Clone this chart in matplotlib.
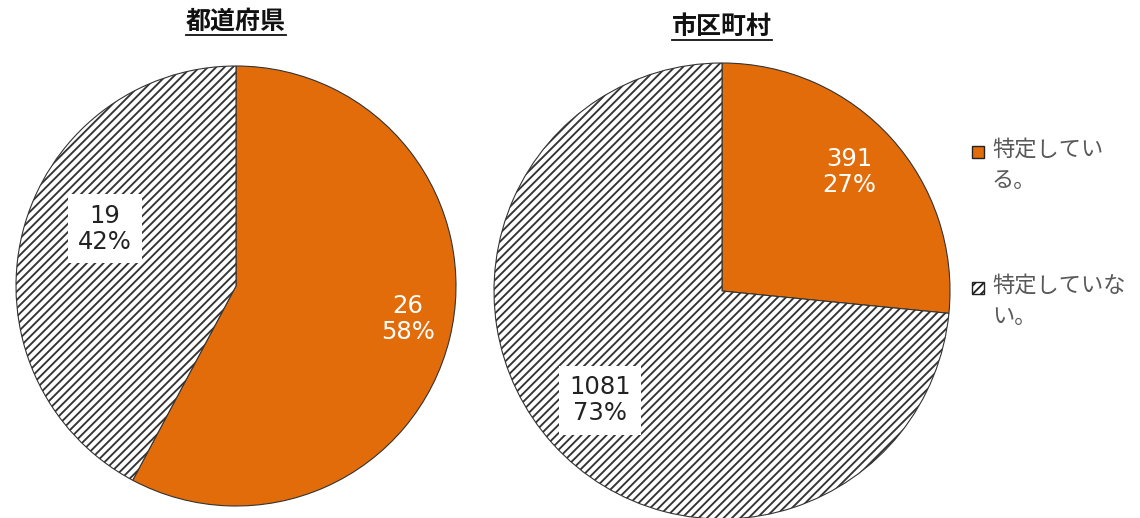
import matplotlib
matplotlib.use("Agg")
import matplotlib.pyplot as plt
from matplotlib.patches import Rectangle
from matplotlib.lines import Line2D

plt.rcParams['font.family'] = ['Noto Sans CJK JP', 'DejaVu Sans']
plt.rcParams['hatch.linewidth'] = 1.35
plt.rcParams['hatch.color'] = '#333333'

# Data
titles = ["都道府県", "市区町村"]
categories = ["特定している。", "特定していない。"]
legend_labels = ["特定してい\nる。", "特定していな\nい。"]
pref_values = [26, 19]
muni_values = [391, 1081]

ORANGE = "#E36C0A"
EDGE = "#333333"

W, H = 1140, 518
fig = plt.figure(figsize=(W / 100, H / 100), dpi=100)

def px_axes(cx, cy, r):
    return fig.add_axes([(cx - r) / W, (H - cy - r) / H, 2 * r / W, 2 * r / H])

def draw_pie(ax, values, label_pos):
    total = sum(values)
    wedges, _ = ax.pie(values, startangle=90, counterclock=False,
                       colors=[ORANGE, "white"],
                       wedgeprops=dict(edgecolor=EDGE, linewidth=0.8))
    wedges[1].set_hatch("////")
    ax.set_xlim(-1.0, 1.0)
    ax.set_ylim(-1.0, 1.0)
    ax.set_aspect('equal')
    ax.axis('off')
    for i, v in enumerate(values):
        pct = round(100 * v / total)
        x, y = label_pos[i]
        if i == 0:
            ax.text(x, y, f"{v}\n{pct}%", ha='center', va='center', color='white',
                    fontsize=17.5, family='DejaVu Sans', linespacing=1.1)
        else:
            ax.text(x, y, f"{v}\n{pct}%", ha='center', va='center', color='#222222',
                    fontsize=17.5, family='DejaVu Sans', linespacing=1.1,
                    bbox=dict(boxstyle='square,pad=0.4', facecolor='white', edgecolor='none'))

ax1 = px_axes(236, 286, 220)
draw_pie(ax1, pref_values, [(0.78, -0.15), (-0.595, 0.26)])
ax2 = px_axes(722, 291, 228)
draw_pie(ax2, muni_values, [(0.56, 0.52), (-0.535, -0.48)])

# Titles with underline
title_pos = [(236, 22), (722, 27)]
fig.canvas.draw()
renderer = fig.canvas.get_renderer()
for t, (tx, ty) in zip(titles, title_pos):
    txt = fig.text(tx / W, 1 - ty / H, t, ha='center', va='center',
                   fontsize=18, fontweight='bold', color='#111111')
    bb = txt.get_window_extent(renderer)
    yline = (bb.y0 - 1) / H
    fig.add_artist(Line2D([bb.x0 / W, bb.x1 / W], [yline, yline],
                          transform=fig.transFigure, color='#111111', linewidth=1.3))

# Legend (manual)
legend_y = [152, 288]
for i, (lab, ly) in enumerate(zip(legend_labels, legend_y)):
    sq = Rectangle((972 / W, 1 - (ly + 6) / H), 12 / W, 12 / H, transform=fig.transFigure,
                   facecolor=ORANGE if i == 0 else 'white', edgecolor='#222222',
                   linewidth=1.0, hatch=None if i == 0 else '////')
    fig.add_artist(sq)
    fig.text(992 / W, 1 - (ly - 14) / H, lab, ha='left', va='top', fontsize=16,
             color='#595959', linespacing=1.45)

fig.savefig("out.png", dpi=100)
